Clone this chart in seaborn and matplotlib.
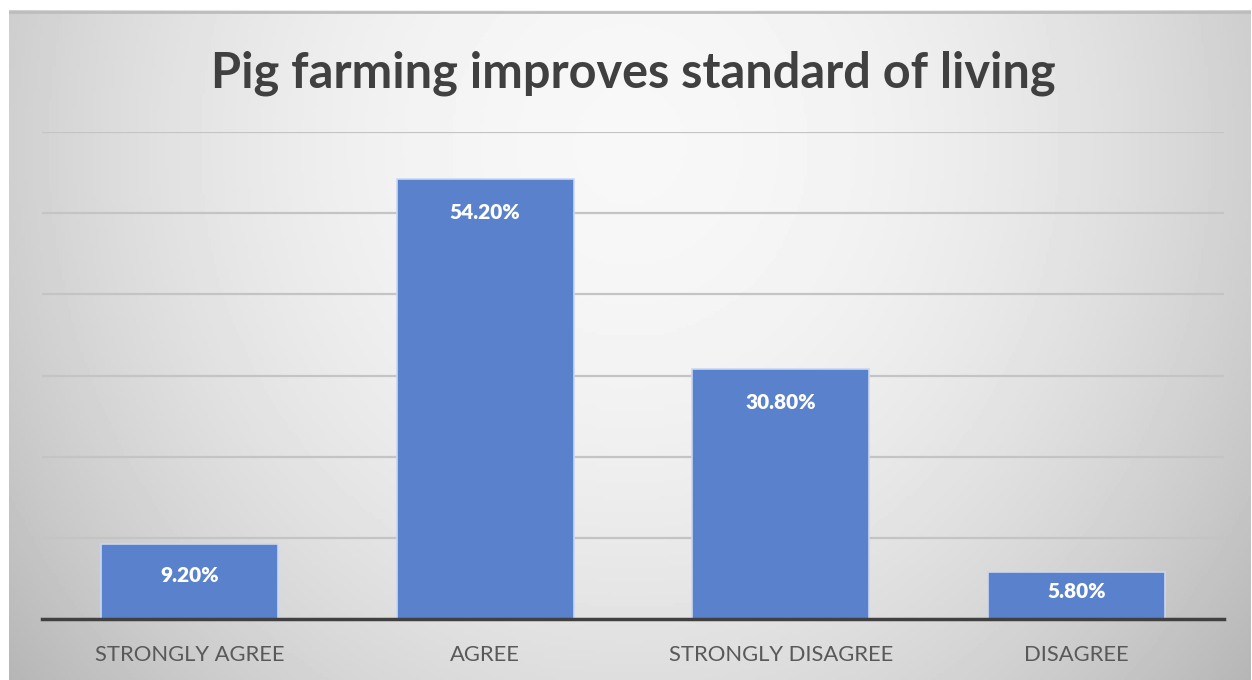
import numpy as np
import pandas as pd
import matplotlib
matplotlib.use("Agg")
import matplotlib.pyplot as plt
import seaborn as sns

# Daten
categories = ["STRONGLY AGREE", "AGREE", "STRONGLY DISAGREE", "DISAGREE"]
percentages = [9.2, 54.2, 30.8, 5.8]
bar_labels = ["9.20%", "54.20%", "30.80%", "5.80%"]

df = pd.DataFrame({"Antwort": categories, "Anteil": percentages})

sns.set_theme(style="white")
plt.rcParams["font.family"] = ["Lato", "DejaVu Sans"]

fig = plt.figure(figsize=(12.52, 6.8), dpi=100)
fig.patch.set_facecolor("white")

# Hintergrund mit Verlauf (hell in der Mitte, grau am Rand)
bg = fig.add_axes([9 / 1252, 0, 1242 / 1252, 670 / 680])
yy, xx = np.mgrid[0:1:200j, 0:1:400j]
r = np.sqrt(((xx - 0.5) / 0.55) ** 2 + ((yy - 0.2) / 1.1) ** 2)
grad = 0.97 - 0.19 * np.clip(r, 0, 1.2) ** 2
bg.imshow(grad, cmap="gray", vmin=0, vmax=1, aspect="auto", extent=[0, 1, 1, 0])
bg.set_axis_off()
bg.plot([0, 1], [0.997, 0.997], color="#bdbdbd", lw=2, transform=bg.transAxes)

ax = fig.add_axes([42 / 1252, (680 - 619) / 680, 1182 / 1252, (619 - 132) / 680])
ax.patch.set_alpha(0)

sns.barplot(data=df, x="Antwort", y="Anteil", color="#5A81CB", width=0.6,
            edgecolor="#c9d8f2", linewidth=1.2, saturation=1, ax=ax)

ax.set_ylim(0, 60)
ax.set_xlim(-0.5, 3.5)
ax.set_yticks([10, 20, 30, 40, 50, 60])
ax.yaxis.grid(True, color="#c4c4c4", linewidth=1.6)
ax.set_axisbelow(True)
ax.tick_params(axis="y", left=False, labelleft=False)
ax.tick_params(axis="x", bottom=False, labelsize=15.8, labelcolor="#595959", pad=13)
for s in ["top", "right", "left"]:
    ax.spines[s].set_visible(False)
ax.spines["bottom"].set_color("#404040")
ax.spines["bottom"].set_linewidth(2.5)
ax.set_xlabel("")
ax.set_ylabel("")

# Beschriftung innen am Balkenende
pt_per_unit = (619 - 132) / 60 * 0.72
for i, (v, lab) in enumerate(zip(percentages, bar_labels)):
    off = min(24, 0.42 * v * pt_per_unit)
    ax.annotate(lab, (i, v), xytext=(0, -off), textcoords="offset points",
                ha="center", va="center", color="white", fontsize=15,
                fontweight="heavy")

fig.text(0.5055, 0.893, "Pig farming improves standard of living", ha="center",
         va="center", fontsize=35, fontweight="bold", color="#404040")

fig.savefig("out.png", dpi=100)
